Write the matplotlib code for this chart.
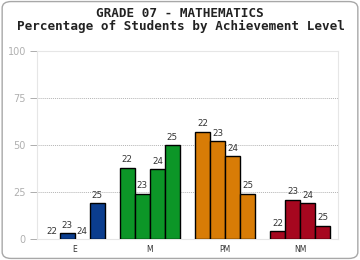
import matplotlib
matplotlib.use("Agg")
import matplotlib.pyplot as plt
import numpy as np
from matplotlib.patches import FancyBboxPatch

# data
levels = ["E", "M", "PM", "NM"]
years = ["22", "23", "24", "25"]
pct_E = [0, 3, 0, 19]
pct_M = [38, 24, 37, 50]
pct_PM = [57, 52, 44, 24]
pct_NM = [4, 21, 19, 7]
colors = ["#0b3d8e", "#0c9627", "#d87c06", "#a6071f"]

values = [pct_E, pct_M, pct_PM, pct_NM]

fig = plt.figure(figsize=(3.6, 2.6), dpi=100)
fig.patch.set_facecolor("white")

# rounded outer frame
frame = FancyBboxPatch((0.006, 0.006), 0.988, 0.988,
                       boxstyle="round,pad=0,rounding_size=0.025",
                       transform=fig.transFigure, facecolor="none",
                       edgecolor="#a8a8a8", linewidth=1.0, zorder=-1)
fig.patches.append(frame)

ax = fig.add_axes([0.1028, 0.0808, 0.836, 0.723])
ax.set_facecolor("white")

width = 0.2
index = np.arange(len(levels))
offsets = np.array([-1.5, -0.5, 0.5, 1.5]) * width
for i, vals in enumerate(values):
    xs = index[i] + offsets
    edges = ["black" if v > 0 else "none" for v in vals]
    ax.bar(xs, vals, width=width, color=colors[i], edgecolor=edges,
           linewidth=1.0, zorder=3)
    for x, v, yr in zip(xs, vals, years):
        ax.annotate(yr, (x, v), xytext=(0, 2.5), textcoords="offset points",
                    ha="center", va="bottom", fontsize=6.3, color="#333333",
                    zorder=4)

ax.set_xlim(-0.5, 3.5)
ax.set_ylim(0, 100)
ax.set_yticks([0, 25, 50, 75, 100])
ax.set_xticks(index)
ax.set_xticklabels(levels)
for y in [25, 50, 75]:
    ax.axhline(y, color="#b4b4b4", linestyle=(0, (1, 1)), linewidth=0.7, zorder=1)

for side in ["top", "right", "left", "bottom"]:
    ax.spines[side].set_color("#e6e6e6")
    ax.spines[side].set_linewidth(0.8)
ax.tick_params(axis="y", colors="#a0a0a0", labelsize=7, length=5, width=0.6,
               pad=3)
ax.tick_params(axis="y", labelcolor="#b0b0b0")
ax.tick_params(axis="x", length=0, labelsize=5.5, labelcolor="#333333", pad=4)

fig.text(0.5, 0.948, "GRADE 07 - MATHEMATICS", ha="center", va="center",
         family="DejaVu Sans Mono", fontweight="bold", fontsize=9.1,
         color="#222222")
fig.text(0.503, 0.898, "Percentage of Students by Achievement Level",
         ha="center", va="center", family="DejaVu Sans Mono",
         fontweight="bold", fontsize=9.1, color="#222222")

plt.savefig("out.png", dpi=100)
